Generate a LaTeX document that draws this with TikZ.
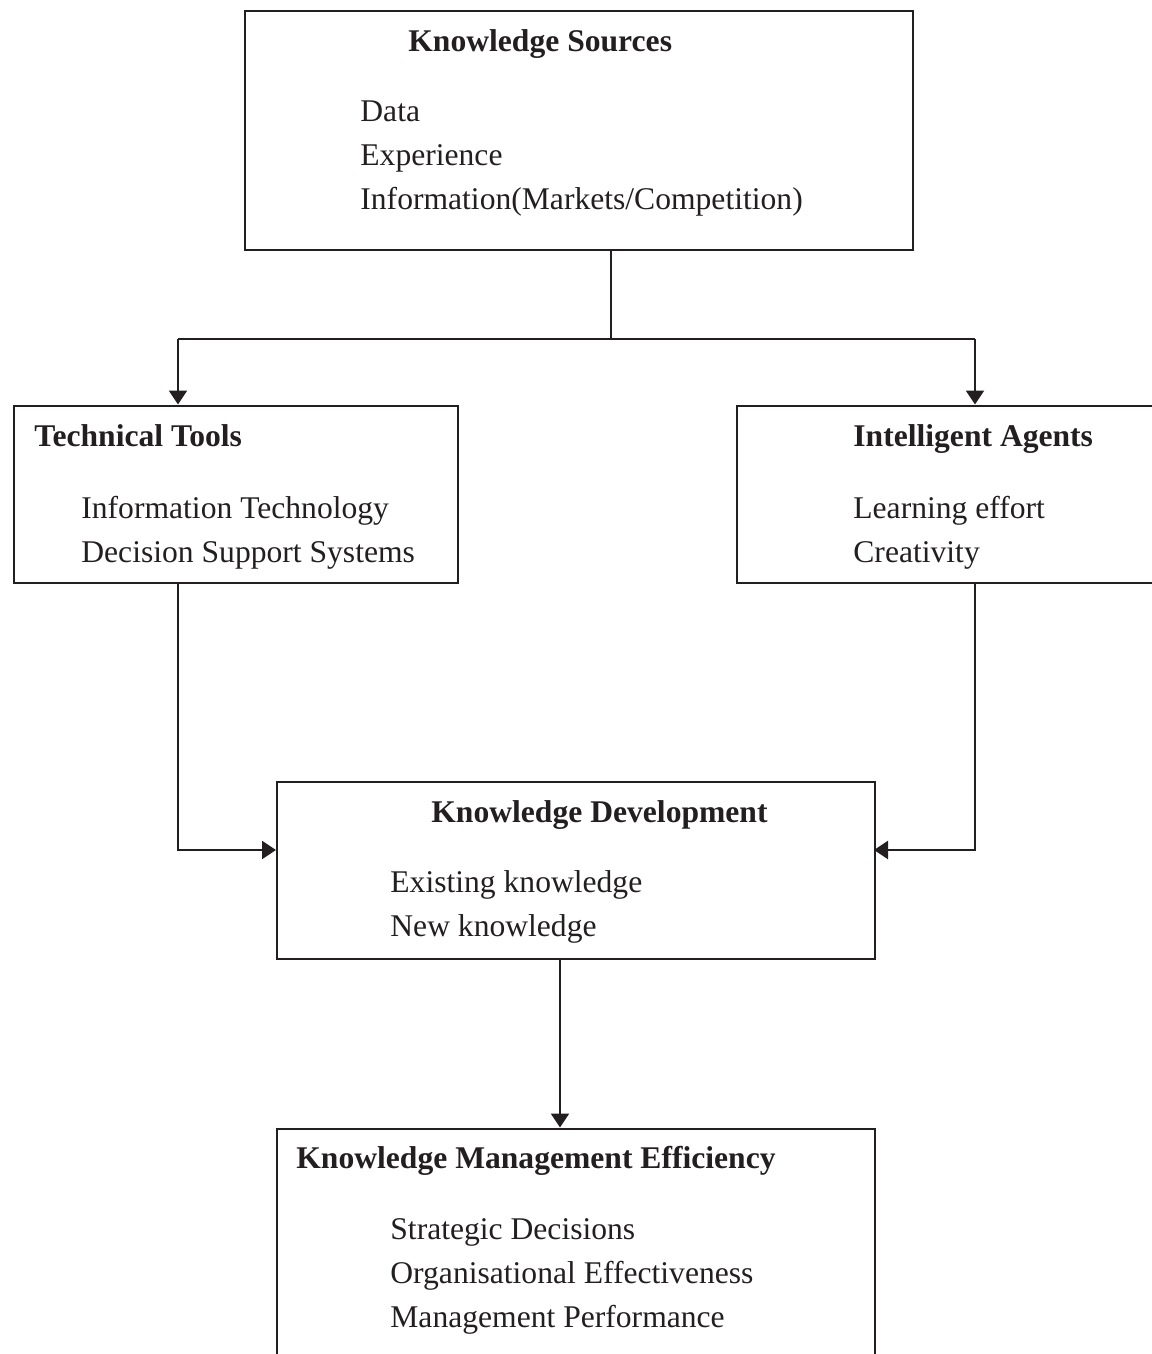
\documentclass[tikz,border=0pt]{standalone}
\usepackage{fontspec}
\setmainfont{Liberation Serif}
\usetikzlibrary{arrows.meta}
\definecolor{ink}{HTML}{231F20}
\begin{document}
\begin{tikzpicture}[x=0.5pt,y=-0.5pt,
  box/.style={draw=ink,line width=1pt,anchor=north west,inner sep=0pt},
  txt/.style={anchor=base west,inner sep=0pt,text=ink,font=\fontsize{15.8}{19}\selectfont},
  ttl/.style={txt,font=\fontsize{15.8}{19}\selectfont\bfseries},
  conn/.style={draw=ink,line width=1.1pt},
  arr/.style={conn,-{Triangle[length=7pt,width=9pt]}}]
\useasboundingbox (0,0) rectangle (1151,1354);
% boxes
\node[box,minimum width=334pt,minimum height=119pt] (ks) at (244,10.5) {};
\node[box,minimum width=222pt,minimum height=88.5pt] (tt) at (13,404.5) {};
\node[box,minimum width=220pt,minimum height=88.5pt] (ia) at (736,404.5) {};
\node[box,minimum width=299pt,minimum height=88.5pt] (kd) at (275.5,780.5) {};
\node[box,minimum width=299pt,minimum height=125pt] (kme) at (275.5,1127.5) {};
% texts
\node[ttl] (ks0) at (408,52) {Knowledge Sources};
\node[txt] (ks1) at (360,121) {Data};
\node[txt] (ks2) at (360,165) {Experience};
\node[txt] (ks3) at (360,209) {Information(Markets/Competition)};
\node[ttl] (tt0) at (34,446) {Technical Tools};
\node[txt] (tt1) at (81,518) {Information Technology};
\node[txt] (tt2) at (81,562) {Decision Support Systems};
\node[ttl] (ia0) at (853,446) {Intelligent Agents};
\node[txt] (ia1) at (853,518) {Learning effort};
\node[txt] (ia2) at (853,562) {Creativity};
\node[ttl] (kd0) at (431,822) {Knowledge Development};
\node[txt] (kd1) at (390,892) {Existing knowledge};
\node[txt] (kd2) at (390,936) {New knowledge};
\node[ttl] (kme0) at (296,1168) {Knowledge Management Efficiency};
\node[txt] (kme1) at (390,1239) {Strategic Decisions};
\node[txt] (kme2) at (390,1283) {Organisational Effectiveness};
\node[txt] (kme3) at (390,1327) {Management Performance};
% connector points
\coordinate (j) at (611,339);
\coordinate (jl) at (178,339);
\coordinate (jr) at (975,339);
\coordinate (kl) at (276,850);
\coordinate (kr) at (874,850);
\coordinate (m) at (560,0);
% connectors
\draw[conn] (j |- ks.south) -- (j);
\draw[conn] (jl) -- (jr);
\draw[arr] (jl) -- (jl |- tt.north);
\draw[arr] (jr) -- (jr |- ia.north);
\draw[arr] (jl |- tt.south) |- (kl);
\draw[arr] (jr |- ia.south) |- (kr);
\draw[arr] (kd.south -| m) -- (kme.north -| m);
\end{tikzpicture}
\end{document}
